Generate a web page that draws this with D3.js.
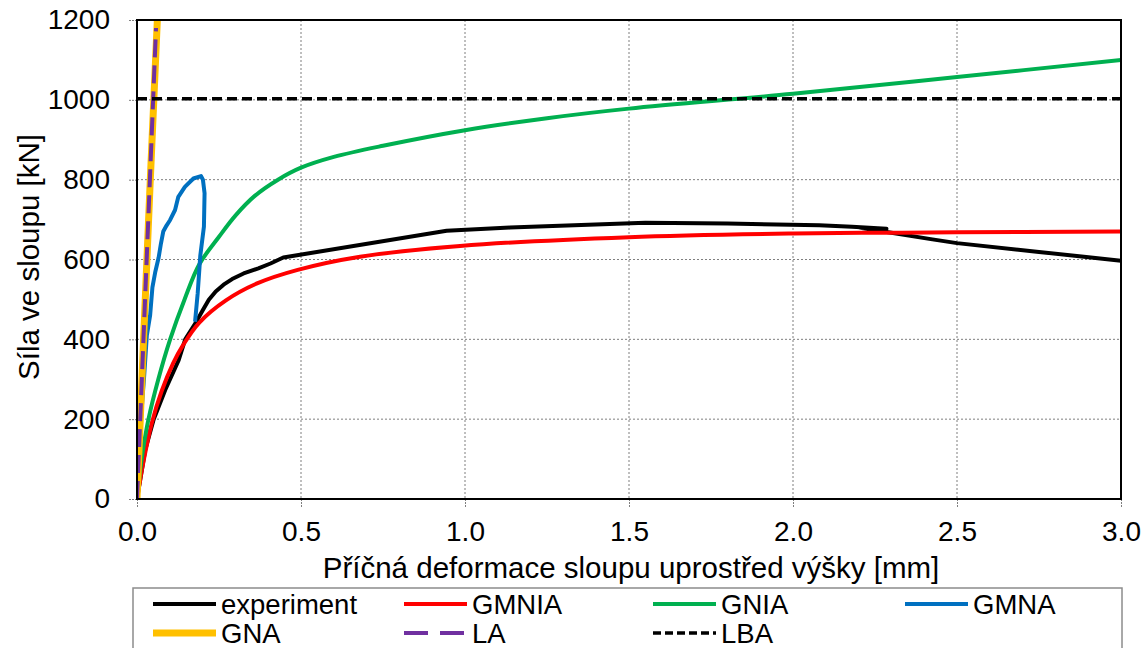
<!DOCTYPE html>
<html lang="cs">
<head>
<meta charset="utf-8">
<title>Síla ve sloupu</title>
<script src="https://cdn.jsdelivr.net/npm/d3@7"></script>
<style>
  body { margin: 0; background: #fff; }
  svg text { font-family: "Liberation Sans", Arial, sans-serif; fill: #000; }
</style>
</head>
<body>
<svg id="chart" width="1148" height="648"></svg>
<script>
// data: x = deformation [mm], F = force [kN]
const expX = [0, 0.025, 0.051, 0.086, 0.127, 0.147, 0.178, 0.2, 0.219, 0.24, 0.264, 0.29, 0.325, 0.37, 0.407, 0.446, 0.944, 1.137, 1.55, 1.8, 2.08, 2.18, 2.285, 2.24, 2.2, 2.3, 2.42, 2.5, 2.75, 3.0];
const expF = [0, 123, 200, 273, 348, 400, 440, 472, 499, 520, 537, 551, 565, 578, 590, 605, 672, 680, 692, 690, 686, 682, 677, 678, 680, 667, 651, 641, 619, 597];

const gmniaX = [0, 0.02, 0.045, 0.075, 0.11, 0.14, 0.19, 0.27, 0.366, 0.49, 0.68, 0.985, 1.5, 2.0, 2.5, 3.0];
const gmniaF = [0, 95, 190, 270, 340, 385, 442, 497, 540, 574, 607, 634, 656, 665, 668, 670];

const gniaX = [0, 0.015, 0.035, 0.065, 0.101, 0.145, 0.19, 0.25, 0.3, 0.36, 0.43, 0.5, 0.6, 0.75, 1.0, 1.25, 1.5, 2.0, 2.5, 3.0];
const gniaF = [0, 105, 200, 300, 400, 500, 588, 657, 710, 760, 800, 830, 857, 885, 924, 954, 978, 1015, 1057, 1100];

const gmnaX = [0, 0.012, 0.022, 0.030, 0.040, 0.047, 0.056, 0.066, 0.073, 0.080, 0.090, 0.101, 0.116, 0.126, 0.146, 0.172, 0.195, 0.201, 0.206, 0.204, 0.193, 0.185, 0.177];
const gmnaF = [0, 200, 310, 410, 460, 530, 570, 605, 640, 670, 685, 699, 724, 757, 782, 803, 809, 800, 766, 682, 610, 515, 444];

const gnaX = [0, 0.02, 0.04, 0.062];
const gnaF = [0, 400, 790, 1200];

const laX = [0, 0.058];
const laF = [0, 1180];

const lbaX = [0, 3.0];
const lbaF = [1003, 1003];

const xTicks = [0, 0.5, 1.0, 1.5, 2.0, 2.5, 3.0];
const yTicks = [0, 200, 400, 600, 800, 1000, 1200];

const seriesNames = ["experiment", "GMNIA", "GNIA", "GMNA", "GNA", "LA", "LBA"];

const series = [
  { name: "experiment", x: expX, y: expF, color: "#000000", width: 4, dash: null, curve: d3.curveLinear },
  { name: "GMNIA", x: gmniaX, y: gmniaF, color: "#ff0000", width: 4, dash: null, curve: d3.curveCatmullRom },
  { name: "GNIA", x: gniaX, y: gniaF, color: "#00b050", width: 4, dash: null, curve: d3.curveCatmullRom },
  { name: "GMNA", x: gmnaX, y: gmnaF, color: "#0070c0", width: 4, dash: null, curve: d3.curveLinear },
  { name: "GNA", x: gnaX, y: gnaF, color: "#ffc000", width: 7, dash: null, curve: d3.curveLinear },
  { name: "LA", x: laX, y: laF, color: "#7030a0", width: 4, dash: "18,8", curve: d3.curveLinear },
  { name: "LBA", x: lbaX, y: lbaF, color: "#000000", width: 3.5, dash: "10,5", curve: d3.curveLinear }
];

const svg = d3.select("#chart");
const pLeft = 137, pRight = 1121, pTop = 20, pBottom = 499;

const x = d3.scaleLinear().domain([0, 3]).range([pLeft, pRight]);
const y = d3.scaleLinear().domain([0, 1200]).range([pBottom, pTop]);

svg.append("defs").append("clipPath").attr("id", "plotclip")
  .append("rect").attr("x", pLeft).attr("y", pTop).attr("width", pRight - pLeft).attr("height", pBottom - pTop);

// gridlines
svg.append("g").selectAll("line").data(xTicks.slice(1, -1)).join("line")
  .attr("x1", d => x(d)).attr("x2", d => x(d)).attr("y1", pTop).attr("y2", pBottom)
  .attr("stroke", "#7f7f7f").attr("stroke-width", 1).attr("stroke-dasharray", "2,2");
svg.append("g").selectAll("line").data(yTicks.slice(1, -1)).join("line")
  .attr("x1", pLeft).attr("x2", pRight).attr("y1", d => y(d)).attr("y2", d => y(d))
  .attr("stroke", "#7f7f7f").attr("stroke-width", 1).attr("stroke-dasharray", "2,2");

// axes
const xAxis = svg.append("g").attr("transform", `translate(0,${pBottom})`)
  .call(d3.axisBottom(x).tickValues(xTicks).tickFormat(d3.format(".1f")).tickSize(8).tickPadding(14));
const yAxis = svg.append("g").attr("transform", `translate(${pLeft},0)`)
  .call(d3.axisLeft(y).tickValues(yTicks).tickFormat(d3.format("d")).tickSize(9).tickPadding(18));
[xAxis, yAxis].forEach(g => {
  g.select(".domain").remove();
  g.selectAll(".tick line").attr("stroke", "#7f7f7f").attr("stroke-dasharray", "2,1");
  g.selectAll(".tick text").attr("font-size", 28).attr("font-family", "Liberation Sans, Arial, sans-serif");
});

// series
const plot = svg.append("g").attr("clip-path", "url(#plotclip)");
series.forEach(s => {
  const pts = s.x.map((v, i) => [v, s.y[i]]);
  plot.append("path").datum(pts)
    .attr("fill", "none")
    .attr("stroke", s.color)
    .attr("stroke-width", s.width)
    .attr("stroke-dasharray", s.dash)
    .attr("stroke-linejoin", "round")
    .attr("d", d3.line().x(d => x(d[0])).y(d => y(d[1])).curve(s.curve));
});

// plot frame
svg.append("rect").attr("x", pLeft).attr("y", pTop).attr("width", pRight - pLeft).attr("height", pBottom - pTop)
  .attr("fill", "none").attr("stroke", "#000").attr("stroke-width", 2);

// axis titles
svg.append("text").attr("x", (pLeft + pRight) / 2 + 2).attr("y", 578)
  .attr("text-anchor", "middle").attr("font-size", 29.5)
  .text("Příčná deformace sloupu uprostřed výšky [mm]");
svg.append("text").attr("transform", "translate(39,257) rotate(-90)")
  .attr("text-anchor", "middle").attr("font-size", 29.5)
  .text("Síla ve sloupu [kN]");

// legend
svg.append("rect").attr("x", 133).attr("y", 588).attr("width", 989).attr("height", 80)
  .attr("fill", "#fff").attr("stroke", "#8c8c8c").attr("stroke-width", 1.5);
const colX = [153, 404, 653, 905];
const rowY = [604, 633];
const leg = svg.append("g");
series.forEach((s, i) => {
  const cx = colX[i % 4], cy = rowY[Math.floor(i / 4)];
  leg.append("line").attr("x1", cx).attr("x2", cx + 63).attr("y1", cy).attr("y2", cy)
    .attr("stroke", s.color).attr("stroke-width", s.width)
    .attr("stroke-dasharray", s.name === "LA" ? "24,12" : (s.name === "LBA" ? "8,4" : null));
  leg.append("text").attr("x", cx + 68).attr("y", cy + 10).attr("font-size", 27.5).text(seriesNames[i]);
});
</script>
</body>
</html>
